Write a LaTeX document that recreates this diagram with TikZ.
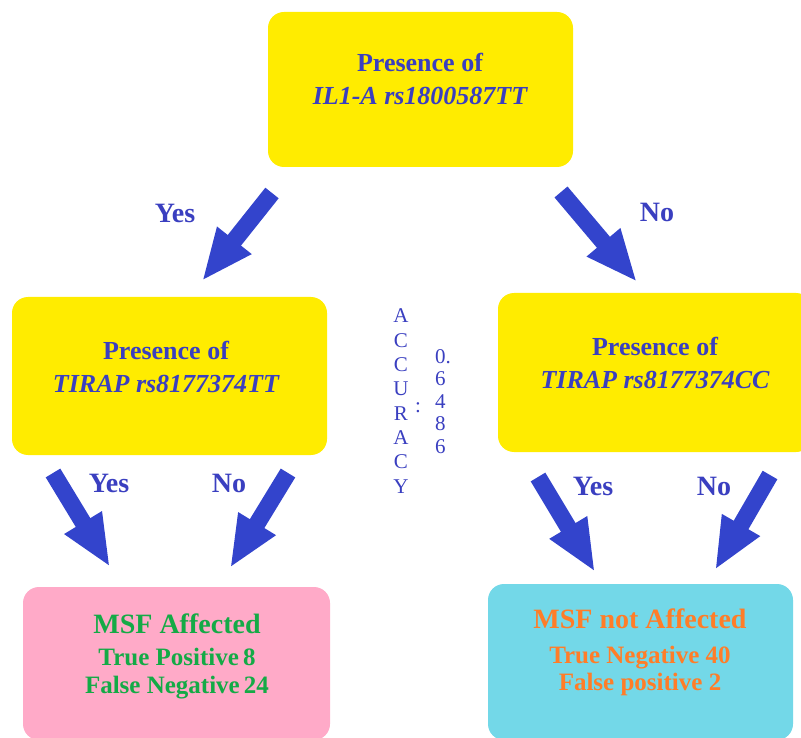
\documentclass[tikz,border=0pt]{standalone}
\usepackage{fontspec}
\setmainfont{Liberation Serif}
\usepackage{tikz}
\usetikzlibrary{arrows.meta, positioning}

\definecolor{boxyellow}{RGB}{255,236,0}
\definecolor{boxpink}{RGB}{255,170,200}
\definecolor{boxcyan}{RGB}{115,216,232}
\definecolor{textblue}{RGB}{58,63,192}
\definecolor{arrowblue}{RGB}{51,68,204}
\definecolor{textgreen}{RGB}{20,170,70}
\definecolor{textorange}{RGB}{255,125,40}

\begin{document}
\begin{tikzpicture}[x=1pt, y=-1pt,
    decision/.style={fill=boxyellow, rounded corners=16pt, inner sep=0pt},
    leaf/.style={rounded corners=16pt, inner sep=0pt},
    boxtext/.style={anchor=base, align=center, inner sep=0pt, text=textblue,
      font=\fontsize{26}{33}\selectfont\bfseries},
    branch/.style={anchor=base, inner sep=0pt, text=textblue,
      font=\fontsize{28}{30}\selectfont\bfseries},
    bigarrow/.style={arrowblue, line width=17pt,
      -{Triangle[length=52pt, width=40pt]}},
    acctext/.style={inner sep=0pt, text=textblue, font=\fontsize{21}{24.3}\selectfont}]

      \useasboundingbox (0,0) rectangle (801,738);
      \clip (0,0) rectangle (801,738);

      % boxes
      \node[decision, minimum width=305pt, minimum height=155pt] (il1) at (420.5,89.5) {};
      \node[decision, minimum width=315pt, minimum height=158pt] (tirapTT) at (169.5,376) {};
      \node[decision, minimum width=314pt, minimum height=159pt] (tirapCC) at (655,372.5) {};
      \node[leaf, fill=boxpink, minimum width=307pt, minimum height=153pt] (affected) at (176.5,663.5) {};
      \node[leaf, fill=boxcyan, minimum width=305pt, minimum height=156pt] (notaffected) at (640.5,662) {};

      % base of a two line text is its last line
      \node[boxtext] (il1txt) at (420,105) {Presence of\\{\itshape IL1-A rs1800587TT}};
      \node[boxtext] (tirapTTtxt) at (166,392) {Presence of\\{\itshape TIRAP rs8177374TT}};
      \node[boxtext] (tirapCCtxt) at (655,388) {Presence of\\{\itshape TIRAP rs8177374CC}};

      \node[boxtext, text=textgreen, font=\fontsize{28}{30}\selectfont\bfseries] (affectedhead) at (177,633) {MSF Affected};
      \node[boxtext, text=textgreen, font=\fontsize{25}{28}\selectfont\bfseries] (affectedtxt) at (177,693) {True Positive\,8\\False Negative\,24};
      \node[boxtext, text=textorange, font=\fontsize{28}{30}\selectfont\bfseries] (notaffectedhead) at (640,628) {MSF not Affected};
      \node[boxtext, text=textorange, font=\fontsize{25}{27}\selectfont\bfseries] (notaffectedtxt) at (640,690) {True Negative 40\\False positive 2};

      % arrows
      \coordinate (il1yesA) at (272,193);
      \coordinate (il1yesB) at (202,281);
      \coordinate (il1noA) at (561,192);
      \coordinate (il1noB) at (637,282);
      \coordinate (ttyesA) at (53,473);
      \coordinate (ttyesB) at (110,567);
      \coordinate (ttnoA) at (288,473);
      \coordinate (ttnoB) at (230,568);
      \coordinate (ccyesA) at (538,477);
      \coordinate (ccyesB) at (595,572);
      \coordinate (ccnoA) at (770,475);
      \coordinate (ccnoB) at (715,570);

      \draw[bigarrow] (il1yesA) -- (il1yesB);
      \draw[bigarrow] (il1noA) -- (il1noB);
      \draw[bigarrow] (ttyesA) -- (ttyesB);
      \draw[bigarrow] (ttnoA) -- (ttnoB);
      \draw[bigarrow] (ccyesA) -- (ccyesB);
      \draw[bigarrow] (ccnoA) -- (ccnoB);

      \node[branch] (il1yes) at (175,223) {Yes};
      \node[branch] (il1no) at (657,222) {No};
      \node[branch] (ttyes) at (109,492) {Yes};
      \node[branch] (ttno) at (229,492) {No};
      \node[branch] (ccyes) at (593,495) {Yes};
      \node[branch] (ccno) at (714,495) {No};

      % accuracy
      \node[acctext, anchor=base, align=center] (acc) at (401,493) {A\\C\\C\\U\\R\\A\\C\\Y};
      \node[acctext] (acccolon) at (418,408) {:};
      \node[acctext, anchor=base west, align=left, font=\fontsize{21}{22.5}\selectfont] (accval) at (435,453) {0.\\6\\4\\8\\6};

    \end{tikzpicture}
\end{document}
